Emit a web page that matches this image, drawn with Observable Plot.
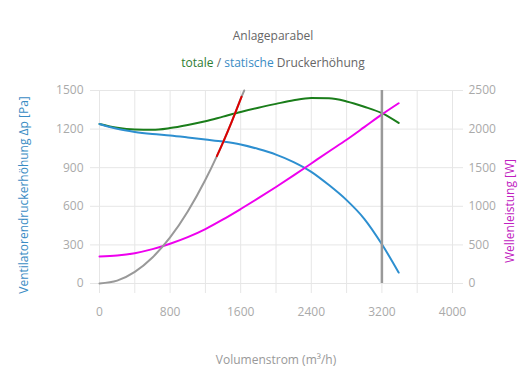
<!DOCTYPE html>
<html><head><meta charset="utf-8">
<script src="https://cdn.jsdelivr.net/npm/d3@7"></script>
<script src="https://cdn.jsdelivr.net/npm/@observablehq/plot@0.6"></script>
<style>
body{margin:0;background:#fff;font-family:"Open Sans",sans-serif;}
#head{position:relative;width:530px;height:75px;}
#head div{position:absolute;left:16px;width:514px;text-align:center;font-size:12px;line-height:16px;color:#666;}
</style></head><body>
<div id="head">
  <div style="top:28px">Anlageparabel</div>
  <div style="top:55px"><span style="color:#2e7d32">totale</span> / <span style="color:#3a8cc4">statische</span> Druckerhöhung</div>
</div>
<div id="chart"></div>
<script>
// Volumenstrom (m³/h)
const flow = [0,200,400,600,800,1000,1200,1400,1600,1800,2000,2200,2400,2600,2800,3000,3200,3390];
// statische Druckerhöhung (Pa)
const staticPressure = [1240,1202,1178,1162,1150,1135,1119,1103,1080,1045,1002,944,868,765,648,503,305,85];
// totale Druckerhöhung (Pa)
const totalPressure = [1240,1210,1196,1194,1208,1232,1261,1297,1333,1366,1396,1424,1441,1439,1415,1374,1324,1248];
// Wellenleistung (W)
const shaftPower = [350,362,393,445,515,600,705,830,965,1105,1250,1400,1555,1710,1862,2025,2190,2335];
// Anlageparabel
const systemFlow = [0,200,400,600,800,1000,1200,1330,1400,1500,1600,1640];
const systemPressure = [0,22,90,202,358,560,806,990,1097,1260,1434,1500];
// Betriebsbereich (rot)
const redFlow = [1330,1400,1500,1610];
const redPressure = [990,1097,1260,1452];
// Betriebspunkt
const operatingFlow = [3200];
// Achsen
const xTicks = [0,400,800,1200,1600,2000,2400,2800,3200,3600,4000];
const xLabels = [0,800,1600,2400,3200,4000];
const yTicks = [0,300,600,900,1200,1500];
const wTicks = [0,500,1000,1500,2000,2500];

const wFactor = 1500/2500;
const fan = flow.map((q,i)=>({q, s:staticPressure[i], t:totalPressure[i], w:shaftPower[i]}));
const sys = systemFlow.map((q,i)=>({q, p:systemPressure[i]}));
const red = redFlow.map((q,i)=>({q, p:redPressure[i]}));

const grid = "#e6e6e6";
const fmt = d => String(Math.round(d));
const plot = Plot.plot({
  width:530, height:315,
  marginTop:15, marginLeft:99, marginRight:78, marginBottom:107,
  style:{fontFamily:"Open Sans", fontSize:"12px", background:"#fff", overflow:"visible"},
  x:{domain:[0,4000]},
  y:{domain:[0,1500]},
  marks:[
    Plot.gridX(xTicks,{stroke:grid, strokeOpacity:1}),
    Plot.gridY(yTicks,{stroke:grid, strokeOpacity:1}),
    Plot.axisX(xTicks,{tickSize:10, text:null, stroke:grid, label:null}),
    Plot.axisY(yTicks,{anchor:"left", tickSize:9, text:null, stroke:grid, label:null}),
    Plot.axisY(yTicks,{anchor:"right", tickSize:10, text:null, stroke:grid, label:null}),
    Plot.axisX(xLabels,{tickSize:0, tickPadding:24, color:"#aaa", tickFormat:fmt, label:"Volumenstrom (m³/h)", labelArrow:false, labelAnchor:"center", labelOffset:80}),
    Plot.axisY(yTicks,{anchor:"left", tickSize:0, tickPadding:16, color:"#aaa", tickFormat:fmt, label:"Ventilatorendruckerhöhung Δp [Pa]", labelArrow:false, labelAnchor:"center", labelOffset:80}),
    Plot.axisY(wTicks.map(w=>w*wFactor),{anchor:"right", tickSize:0, tickPadding:16, color:"#aaa", tickFormat:d=>fmt(d/wFactor), label:"Wellenleistung [W]", labelArrow:false, labelAnchor:"center", labelOffset:61}),
    Plot.line(fan,{x:"q", y:"t", stroke:"#1a7d1a", strokeWidth:2, curve:"monotone-x"}),
    Plot.line(fan,{x:"q", y:"s", stroke:"#2d8fd0", strokeWidth:2, curve:"monotone-x"}),
    Plot.line(fan,{x:"q", y:d=>d.w*wFactor, stroke:"#ee00ee", strokeWidth:2, curve:"monotone-x"}),
    Plot.line(sys,{x:"q", y:"p", stroke:"#999", strokeWidth:2, curve:"monotone-x"}),
    Plot.line(red,{x:"q", y:"p", stroke:"#dd0000", strokeWidth:2, curve:"monotone-x"}),
    Plot.ruleX(operatingFlow,{stroke:"#999", strokeWidth:2.5})
  ]
});
document.getElementById("chart").appendChild(plot);
// axis title colours / arrows
const strip = t => { t.textContent = t.textContent.replace(/\s*[→↑←↓]\s*/g,""); };
const yl = plot.querySelectorAll('[aria-label="y-axis label"]');
if (yl[0]) { yl[0].setAttribute("fill","#3a8cc4"); yl[0].querySelectorAll("text").forEach(t=>{strip(t); t.setAttribute("dx","-8");}); }
if (yl[1]) { yl[1].setAttribute("fill","#c020c0"); yl[1].querySelectorAll("text").forEach(t=>{strip(t); t.setAttribute("dx","-24");}); }
const xl = plot.querySelector('[aria-label="x-axis label"]');
if (xl) { xl.setAttribute("fill","#999"); xl.querySelectorAll("text").forEach(strip); }
</script>
</body></html>
